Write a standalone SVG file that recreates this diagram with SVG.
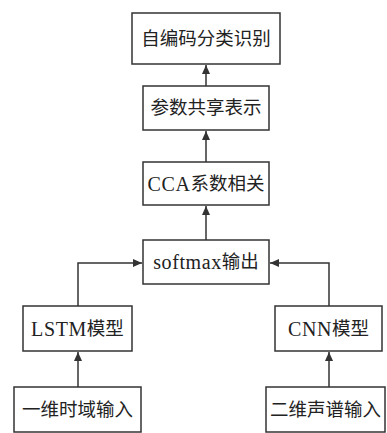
<svg xmlns="http://www.w3.org/2000/svg" width="387" height="433" viewBox="0 0 387 433">
<style>
.box{fill:#fff;stroke:#333;stroke-width:1.5}
.t{font-family:"Liberation Serif","Noto Sans CJK SC",serif;font-size:18.5px;fill:#222;text-anchor:middle;dominant-baseline:central}
.l{font-size:20px;letter-spacing:0.6px}
.c{fill:none;stroke:#333;stroke-width:1.5}
</style>
<defs>
<marker id="ah" markerWidth="10" markerHeight="10" refX="9" refY="5" orient="auto" markerUnits="userSpaceOnUse">
<path d="M0,1 L9,5 L0,9 Z" fill="#333"/>
</marker>
</defs>
<rect width="387" height="433" fill="#fff"/>
<g id="connectors">
<path class="c" d="M206,86 V65" marker-end="url(#ah)"/>
<path class="c" d="M206,162 V131" marker-end="url(#ah)"/>
<path class="c" d="M206,240 V206" marker-end="url(#ah)"/>
<path class="c" d="M78,306 V263 H142" marker-end="url(#ah)"/>
<path class="c" d="M329,306 V263 H270" marker-end="url(#ah)"/>
<path class="c" d="M78,387 V352" marker-end="url(#ah)"/>
<path class="c" d="M329,387 V352" marker-end="url(#ah)"/>
</g>
<g id="n1"><rect class="box" x="132" y="13" width="148" height="51"/><text class="t" x="206" y="38.5">自编码分类识别</text></g>
<g id="n2"><rect class="box" x="143" y="86" width="126" height="44"/><text class="t" x="206" y="108">参数共享表示</text></g>
<g id="n3"><rect class="box" x="143" y="162" width="126" height="43"/><text class="t" x="206" y="183.5"><tspan class="l">CCA</tspan>系数相关</text></g>
<g id="n4"><rect class="box" x="143" y="240" width="126" height="44"/><text class="t" x="206" y="262"><tspan class="l">softmax</tspan>输出</text></g>
<g id="n5"><rect class="box" x="23" y="306" width="109" height="45"/><text class="t" x="77.5" y="328.5"><tspan class="l">LSTM</tspan>模型</text></g>
<g id="n6"><rect class="box" x="275" y="306" width="107" height="45"/><text class="t" x="328.5" y="328.5"><tspan class="l">CNN</tspan>模型</text></g>
<g id="n7"><rect class="box" x="14" y="387" width="127" height="45"/><text class="t" x="77.5" y="409.5">一维时域输入</text></g>
<g id="n8"><rect class="box" x="266" y="387" width="119" height="45"/><text class="t" x="325.5" y="409.5">二维声谱输入</text></g>
</svg>
